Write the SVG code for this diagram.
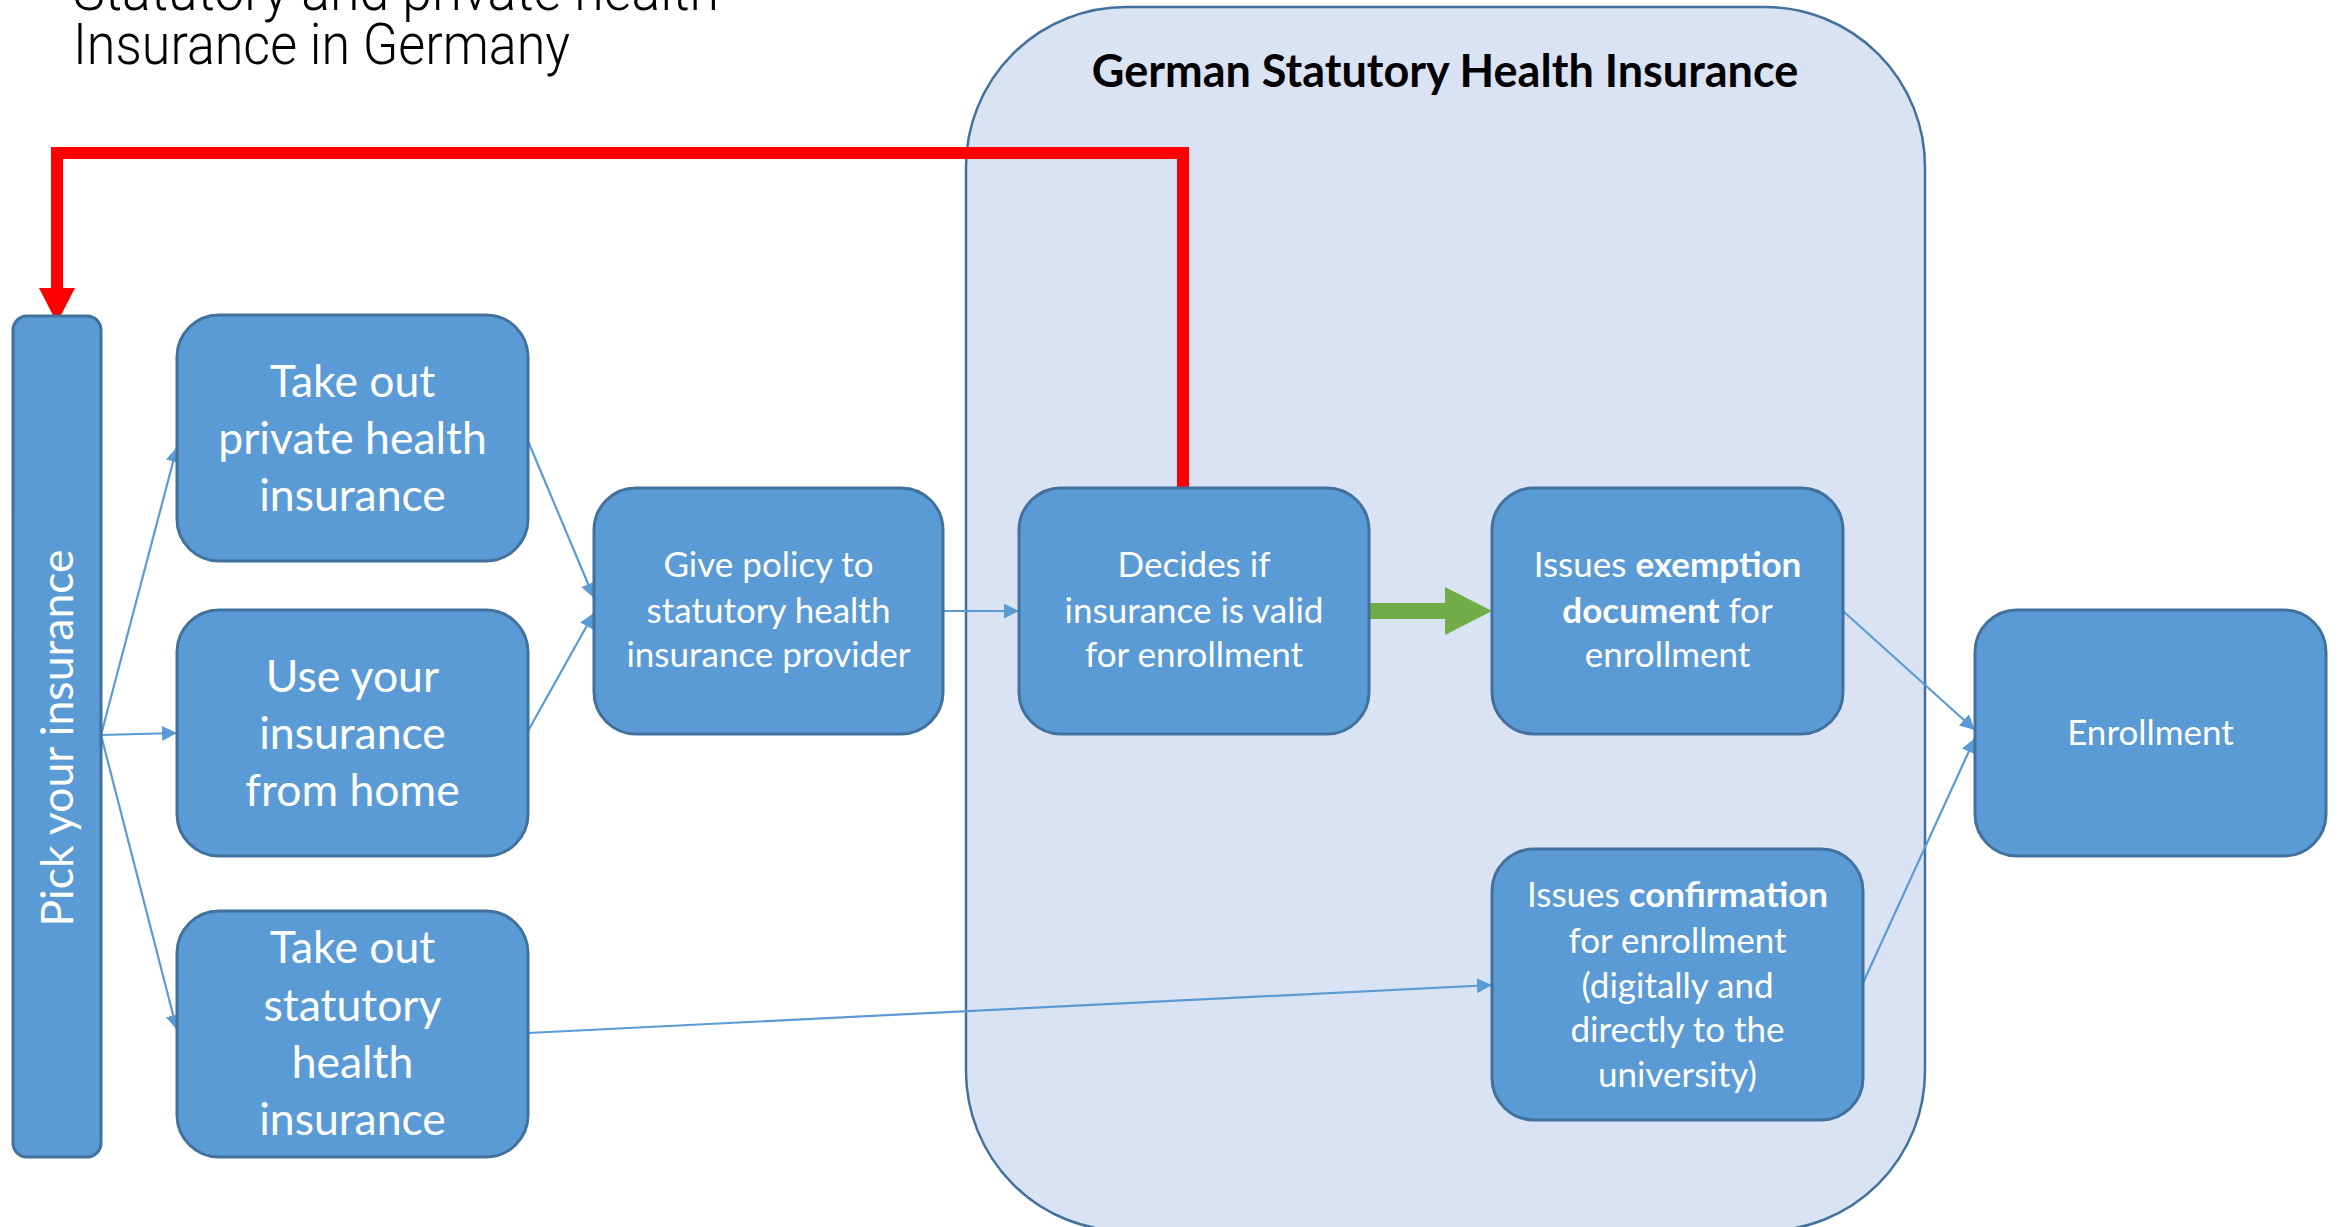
<svg xmlns="http://www.w3.org/2000/svg" width="2338" height="1227" viewBox="0 0 2338 1227">
<defs>
<style>
.box{fill:#5B9BD5;stroke:#41719C;stroke-width:3}
.t{font-family:Lato,'Open Sans',sans-serif;fill:#FFFFFF;text-anchor:middle}
.big{font-size:44.5px}
.sm{font-size:35px}
.con{fill:none;stroke:#5B9BD5;stroke-width:2.2}
b{font-weight:700}
</style>
<marker id="ah" markerUnits="userSpaceOnUse" markerWidth="16" markerHeight="16" refX="15" refY="7.5" orient="auto">
<path d="M0,0 L15,7.5 L0,15 z" fill="#5B9BD5"/>
</marker>
</defs>
<rect width="2338" height="1227" fill="#FFFFFF"/>

<g id="title" font-family="Roboto,'Liberation Sans',sans-serif" font-weight="300" font-size="58" fill="#000000">
<text x="73" y="10" textLength="646" lengthAdjust="spacingAndGlyphs">Statutory and private health</text>
<text x="73" y="64" textLength="497" lengthAdjust="spacingAndGlyphs">Insurance in Germany</text>
</g>

<g id="container">
<rect x="966" y="7" width="959" height="1224" rx="160" ry="160" fill="#DAE3F3" stroke="#41719C" stroke-width="2.5"/>
<text x="1445" y="87" font-family="Lato,'Open Sans',sans-serif" font-weight="700" font-size="45" fill="#000000" text-anchor="middle">German Statutory Health Insurance</text>
</g>

<g id="connectors">
<line class="con" x1="101" y1="735" x2="177" y2="447" marker-end="url(#ah)"/>
<line class="con" x1="101" y1="735" x2="177" y2="733" marker-end="url(#ah)"/>
<line class="con" x1="101" y1="735" x2="177" y2="1030" marker-end="url(#ah)"/>
<line class="con" x1="528" y1="441" x2="594" y2="598" marker-end="url(#ah)"/>
<line class="con" x1="528" y1="731" x2="594" y2="613" marker-end="url(#ah)"/>
<line class="con" x1="943" y1="611" x2="1019" y2="611" marker-end="url(#ah)"/>
<line class="con" x1="528" y1="1033" x2="1492" y2="985" marker-end="url(#ah)"/>
<line class="con" x1="1843" y1="611" x2="1975" y2="730" marker-end="url(#ah)"/>
<line class="con" x1="1863" y1="983" x2="1975" y2="738" marker-end="url(#ah)"/>
<path d="M1369,603 L1445,603 L1445,587 L1492,611 L1445,635 L1445,619 L1369,619 z" fill="#70AD47"/>
<polyline points="1183,488 1183,153 57,153 57,290" fill="none" stroke="#FF0000" stroke-width="12" stroke-linejoin="miter"/>
<path d="M39,288 L75,288 L57,323 z" fill="#FF0000"/>
</g>

<g id="pick">
<rect class="box" x="13" y="316" width="88" height="841" rx="14" ry="14"/>
<text class="t big" transform="translate(73,738) rotate(-90)" x="0" y="0">Pick your insurance</text>
</g>

<g id="private">
<rect class="box" x="177" y="315" width="351" height="246" rx="42" ry="42"/>
<text class="t big" x="352.5" y="397">Take out</text>
<text class="t big" x="352.5" y="454">private health</text>
<text class="t big" x="352.5" y="511">insurance</text>
</g>

<g id="home">
<rect class="box" x="177" y="610" width="351" height="246" rx="42" ry="42"/>
<text class="t big" x="352.5" y="692">Use your</text>
<text class="t big" x="352.5" y="749">insurance</text>
<text class="t big" x="352.5" y="806">from home</text>
</g>

<g id="statutory">
<rect class="box" x="177" y="911" width="351" height="246" rx="42" ry="42"/>
<text class="t big" x="352.5" y="963">Take out</text>
<text class="t big" x="352.5" y="1021">statutory</text>
<text class="t big" x="352.5" y="1078">health</text>
<text class="t big" x="352.5" y="1135">insurance</text>
</g>

<g id="give">
<rect class="box" x="594" y="488" width="349" height="246" rx="42" ry="42"/>
<text class="t sm" x="768.5" y="577">Give policy to</text>
<text class="t sm" x="768.5" y="623">statutory health</text>
<text class="t sm" x="768.5" y="667">insurance provider</text>
</g>

<g id="decides">
<rect class="box" x="1019" y="488" width="350" height="246" rx="42" ry="42"/>
<text class="t sm" x="1194" y="577">Decides if</text>
<text class="t sm" x="1194" y="623">insurance is valid</text>
<text class="t sm" x="1194" y="667">for enrollment</text>
</g>

<g id="exemption">
<rect class="box" x="1492" y="488" width="351" height="246" rx="42" ry="42"/>
<text class="t sm" x="1667.5" y="577">Issues <tspan font-weight="700">exemption</tspan></text>
<text class="t sm" x="1667.5" y="623"><tspan font-weight="700">document</tspan> for</text>
<text class="t sm" x="1667.5" y="667">enrollment</text>
</g>

<g id="confirmation">
<rect class="box" x="1492" y="849" width="371" height="271" rx="42" ry="42"/>
<text class="t sm" x="1677.5" y="907">Issues <tspan font-weight="700">confirmation</tspan></text>
<text class="t sm" x="1677.5" y="953">for enrollment</text>
<text class="t sm" x="1677.5" y="998">(digitally and</text>
<text class="t sm" x="1677.5" y="1042">directly to the</text>
<text class="t sm" x="1677.5" y="1087">university)</text>
</g>

<g id="enrollment">
<rect class="box" x="1975" y="610" width="351" height="246" rx="42" ry="42"/>
<text class="t sm" x="2150.5" y="745">Enrollment</text>
</g>
</svg>
